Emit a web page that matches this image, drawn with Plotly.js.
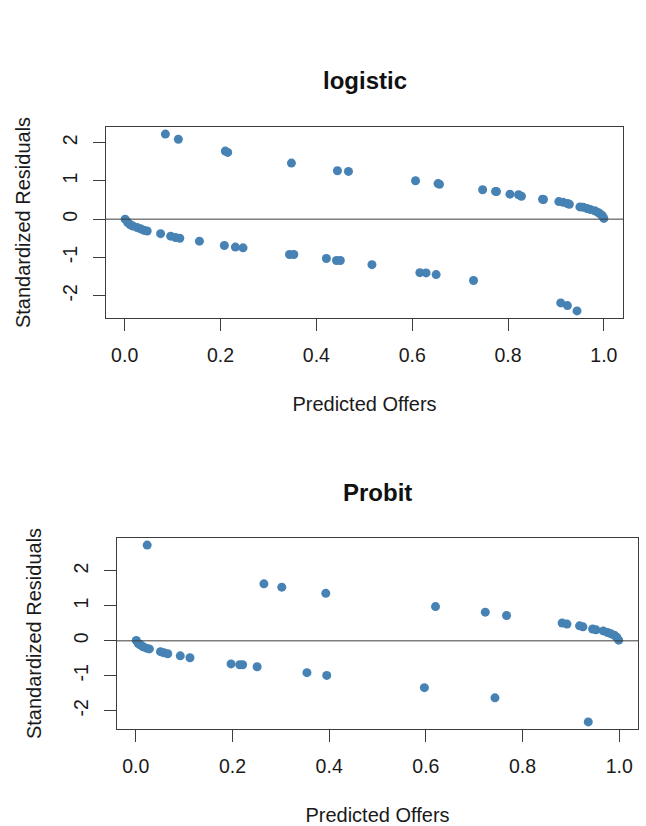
<!DOCTYPE html>
<html>
<head>
<meta charset="utf-8">
<script src="https://cdn.plot.ly/plotly-3.0.1.min.js"></script>
<style>
  html, body { margin: 0; padding: 0; background: #ffffff; }
  #chart { width: 646px; height: 826px; }
</style>
</head>
<body>
<div id="chart"></div>
<script>
// ---- Data ----
const logitFitted = [
  0.085, 0.112, 0.210, 0.215, 0.348, 0.444, 0.467, 0.607, 0.654, 0.657,
  0.747, 0.774, 0.776, 0.804, 0.822, 0.828, 0.872, 0.874, 0.906, 0.915,
  0.924, 0.928, 0.950, 0.957, 0.965, 0.972, 0.981, 0.988, 0.993, 0.997, 1.000,
  0.001, 0.006, 0.011, 0.017, 0.026, 0.033, 0.040, 0.047, 0.075, 0.096,
  0.106, 0.115, 0.156, 0.208, 0.231, 0.247, 0.344, 0.353, 0.421, 0.442,
  0.450, 0.516, 0.616, 0.629, 0.650, 0.728, 0.910, 0.924, 0.944
];
const logitResid = [
  2.225, 2.09, 1.78, 1.745, 1.466, 1.265, 1.248, 1.003, 0.93, 0.91,
  0.77, 0.725, 0.72, 0.654, 0.637, 0.60, 0.52, 0.515, 0.46, 0.44,
  0.41, 0.39, 0.32, 0.31, 0.28, 0.25, 0.22, 0.175, 0.13, 0.09, 0.02,
  0.0, -0.08, -0.14, -0.18, -0.22, -0.25, -0.29, -0.31, -0.38, -0.445,
  -0.48, -0.50, -0.576, -0.69, -0.73, -0.75, -0.925, -0.925, -1.03, -1.08,
  -1.08, -1.19, -1.40, -1.405, -1.45, -1.605, -2.19, -2.26, -2.40
];
const probitFitted = [
  0.0235, 0.265, 0.302, 0.393, 0.620, 0.723, 0.767, 0.882, 0.892, 0.918,
  0.925, 0.945, 0.952, 0.967, 0.976, 0.983, 0.990, 0.995, 0.999,
  0.001, 0.005, 0.010, 0.015, 0.022, 0.028, 0.051, 0.058, 0.066, 0.092,
  0.112, 0.197, 0.215, 0.221, 0.251, 0.354, 0.395, 0.597, 0.743, 0.936
];
const probitResid = [
  2.74, 1.63, 1.535, 1.36, 0.98, 0.82, 0.725, 0.51, 0.48, 0.43,
  0.40, 0.34, 0.315, 0.285, 0.24, 0.20, 0.16, 0.105, 0.02,
  0.01, -0.075, -0.12, -0.17, -0.21, -0.23, -0.31, -0.34, -0.37, -0.43,
  -0.485, -0.66, -0.685, -0.685, -0.74, -0.91, -0.99, -1.34, -1.63, -2.32
];
const xTickVals = [0, 0.2, 0.4, 0.6, 0.8, 1.0];
const xTickText = ['0.0', '0.2', '0.4', '0.6', '0.8', '1.0'];
const yTickVals = [-2, -1, 0, 1, 2];
const yTickText = ['-2', '-1', '0', '1', '2'];
const panelTitles = ['logistic', 'Probit'];
const xLabel = 'Predicted Offers';
const yLabel = 'Standardized Residuals';

// ---- Helpers ----
const W = 646, H = 826;
function rRange(arr) { // R style 4% expansion
  const mn = Math.min(...arr), mx = Math.max(...arr), d = mx - mn;
  return [mn - 0.04 * d, mx + 0.04 * d];
}
const FONT = 'Liberation Sans, Arial, sans-serif';
const pointColor = '#4682B4';
const frameColor = '#3c3c3c';

function xAxis(dom, anchor, data) {
  return {
    domain: dom, anchor: anchor, range: rRange(data),
    tickmode: 'array', tickvals: xTickVals, ticktext: xTickText,
    ticks: 'outside', ticklen: 12, tickwidth: 1, tickcolor: frameColor,
    showline: true, mirror: true, linecolor: frameColor, linewidth: 1,
    showgrid: false, zeroline: false, fixedrange: true,
    tickfont: { family: FONT, size: 19.5, color: '#1a1a1a' },
    ticklabelstandoff: 8,
    title: { text: xLabel, font: { family: FONT, size: 20, color: '#1a1a1a' }, standoff: 31 },
    automargin: false
  };
}
function yAxis(dom, anchor, data) {
  return {
    domain: dom, anchor: anchor, range: rRange(data),
    tickmode: 'array', tickvals: yTickVals, ticktext: yTickText,
    ticks: 'outside', ticklen: 12, tickwidth: 1, tickcolor: frameColor,
    showline: true, mirror: true, linecolor: frameColor, linewidth: 1,
    showgrid: false, zeroline: false, fixedrange: true, tickangle: -90,
    tickfont: { family: FONT, size: 19.5, color: '#1a1a1a' },
    ticklabelstandoff: 8,
    title: { text: yLabel, font: { family: FONT, size: 20, color: '#1a1a1a' }, standoff: 23 },
    automargin: false
  };
}

const traces = [
  { x: logitFitted, y: logitResid, xaxis: 'x', yaxis: 'y', type: 'scatter', mode: 'markers',
    marker: { color: pointColor, size: 9 }, hoverinfo: 'x+y', showlegend: false },
  { x: probitFitted, y: probitResid, xaxis: 'x2', yaxis: 'y2', type: 'scatter', mode: 'markers',
    marker: { color: pointColor, size: 9 }, hoverinfo: 'x+y', showlegend: false }
];

const layout = {
  width: W, height: H,
  margin: { l: 0, r: 0, t: 0, b: 0 },
  paper_bgcolor: '#ffffff', plot_bgcolor: '#ffffff',
  showlegend: false,
  xaxis: xAxis([106 / W, 623 / W], 'y', logitFitted),
  yaxis: yAxis([1 - 318 / H, 1 - 127 / H], 'x', logitResid),
  xaxis2: xAxis([117 / W, 638 / W], 'y2', probitFitted),
  yaxis2: yAxis([1 - 729 / H, 1 - 538 / H], 'x2', probitResid),
  shapes: [
    { type: 'line', xref: 'x domain', yref: 'y', x0: 0, x1: 1, y0: 0, y1: 0,
      line: { color: '#3c3c3c', width: 1 } },
    { type: 'line', xref: 'x2 domain', yref: 'y2', x0: 0, x1: 1, y0: 0, y1: 0,
      line: { color: '#3c3c3c', width: 1 } }
  ],
  annotations: [
    { text: '<b>' + panelTitles[0] + '</b>', xref: 'paper', yref: 'paper',
      x: (106 + 623) / 2 / W, y: 1 - 80 / H, xanchor: 'center', yanchor: 'middle',
      showarrow: false, font: { family: FONT, size: 24, color: '#111111' } },
    { text: '<b>' + panelTitles[1] + '</b>', xref: 'paper', yref: 'paper',
      x: (117 + 638) / 2 / W, y: 1 - 492 / H, xanchor: 'center', yanchor: 'middle',
      showarrow: false, font: { family: FONT, size: 24, color: '#111111' } }
  ]
};

Plotly.newPlot('chart', traces, layout, { displayModeBar: false, staticPlot: false, responsive: false });
</script>
</body>
</html>
